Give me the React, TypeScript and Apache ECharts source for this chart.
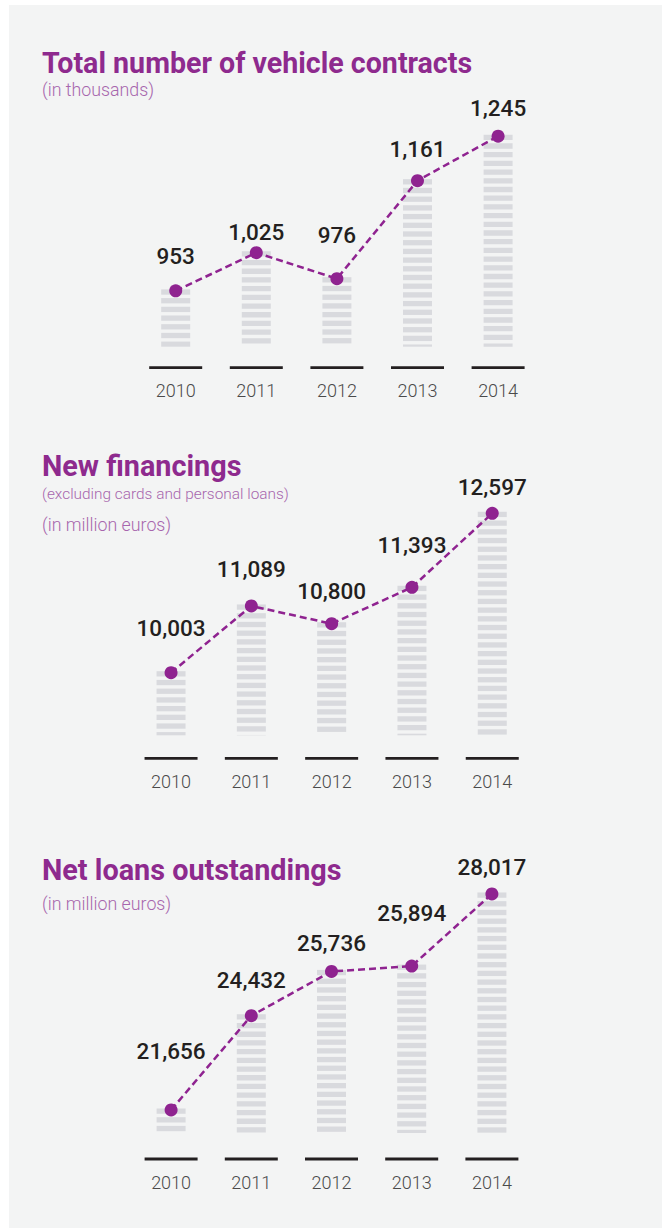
import React, { useEffect, useRef } from "react";
import * as echarts from "echarts";

const years = ["2010", "2011", "2012", "2013", "2014"];
const vehicleContracts = [953, 1025, 976, 1161, 1245];
const newFinancings = [10003, 11089, 10800, 11393, 12597];
const netLoans = [21656, 24432, 25736, 25894, 28017];

const PURPLE = "#8f2390";
const FONT = "Roboto";

type Panel = {
  values: number[];
  left: number;
  width: number;
  top: number;
  height: number;
  min: number;
  max: number;
  gap: number;
  labelLift: number[];
};

const panels: Panel[] = [
  { values: vehicleContracts, left: 135.4, width: 403, top: 107, height: 260.7, min: 808, max: 1300, gap: 21, labelLift: [35, 21, 44, 32, 28] },
  { values: newFinancings, left: 130.9, width: 401.5, top: 457.8, height: 300.5, min: 8610, max: 13500, gap: 23, labelLift: [45, 37, 33, 42, 26] },
  { values: netLoans, left: 131, width: 401, top: 826.6, height: 332.4, min: 20213, max: 30000, gap: 26, labelLift: [59, 36, 28, 53, 27] },
];

const texts = [
  { text: "Total number of vehicle contracts", y: 63, size: 28.6, weight: "bold", color: "#8e2a8e" },
  { text: "(in thousands)", y: 89, size: 17.8, weight: 300, color: "#a766ad" },
  { text: "New financings", y: 466, size: 28.8, weight: "bold", color: "#8e2a8e" },
  { text: "(excluding cards and personal loans)", y: 494, size: 15.4, weight: 300, color: "#a766ad" },
  { text: "(in million euros)", y: 524, size: 17.8, weight: 300, color: "#a766ad" },
  { text: "Net loans outstandings", y: 870, size: 28.8, weight: "bold", color: "#8e2a8e" },
  { text: "(in million euros)", y: 903, size: 17.8, weight: 300, color: "#a766ad" },
];

function buildOption() {
  const grid: any[] = [];
  const xAxis: any[] = [];
  const yAxis: any[] = [];
  const series: any[] = [];
  panels.forEach((p, k) => {
    grid.push({ left: p.left, top: p.top, width: p.width, height: p.height, containLabel: false });
    xAxis.push({
      type: "category",
      gridIndex: k,
      data: years,
      axisLine: { show: false },
      axisTick: { show: false },
      splitLine: { show: false },
      axisLabel: { margin: 14, fontSize: 18, color: "#4a4a4a", fontFamily: FONT, fontWeight: 300 },
    });
    yAxis.push({ type: "value", gridIndex: k, min: p.min, max: p.max, show: false, splitLine: { show: false } });
    const gap = p.gap;
    const min = p.min;
    series.push({
      type: "custom",
      xAxisIndex: k,
      yAxisIndex: k,
      encode: { x: 0, y: 1 },
      data: p.values.map((v, i) => [i, v]),
      z: 1,
      renderItem: (params: any, api: any) => {
        const idx = api.value(0);
        const v = api.value(1);
        const top = api.coord([idx, v]);
        const base = api.coord([idx, min]);
        const bw = 29;
        const stripeH = 5.3;
        const period = 8.7;
        const barBottom = base[1] - gap;
        const children: any[] = [];
        for (let y = top[1] - 1.5; y < barBottom; y += period) {
          const h = Math.min(stripeH, barBottom - y);
          children.push({
            type: "rect",
            shape: { x: top[0] - bw / 2, y, width: bw, height: h },
            style: { fill: "#d9dade" },
          });
        }
        children.push({
          type: "rect",
          shape: { x: base[0] - 26.5, y: base[1] - 1.4, width: 53, height: 2.8 },
          style: { fill: "#231f20" },
        });
        return { type: "group", children };
      },
    });
    series.push({
      type: "line",
      xAxisIndex: k,
      yAxisIndex: k,
      z: 3,
      data: p.values.map((v, i) => ({
        value: v,
        label: { offset: [0, -p.labelLift[i]] },
      })),
      symbol: "circle",
      symbolSize: 13,
      itemStyle: { color: PURPLE },
      lineStyle: { color: PURPLE, width: 2.5, type: [7, 4] },
      label: {
        show: true,
        position: "inside",
        formatter: (d: any) => Number(d.value).toLocaleString("en-US"),
        fontSize: 22.5,
        fontFamily: FONT,
        fontWeight: 500,
        color: "#231f20",
      },
    });
  });

  const graphic: any[] = [
    { type: "rect", shape: { x: 9, y: 5, width: 653, height: 1223 }, style: { fill: "#f3f4f4" }, z: -10, silent: true },
  ];
  texts.forEach((t) => {
    graphic.push({
      type: "text",
      x: 42,
      y: t.y,
      style: {
        text: t.text,
        fill: t.color,
        fontSize: t.size,
        fontWeight: t.weight,
        fontFamily: FONT,
        verticalAlign: "middle",
        align: "left",
      },
      z: 10,
    });
  });

  return { animation: false, grid, xAxis, yAxis, series, graphic };
}

export default function App() {
  const ref = useRef<HTMLDivElement>(null);
  useEffect(() => {
    if (!ref.current) return;
    const chart = echarts.init(ref.current, undefined, { renderer: "svg" });
    chart.setOption(buildOption());
    return () => chart.dispose();
  }, []);
  return (
    <div
      ref={ref}
      style={{ position: "absolute", left: 0, top: 0, width: 664, height: 1229, background: "#ffffff" }}
    />
  );
}
